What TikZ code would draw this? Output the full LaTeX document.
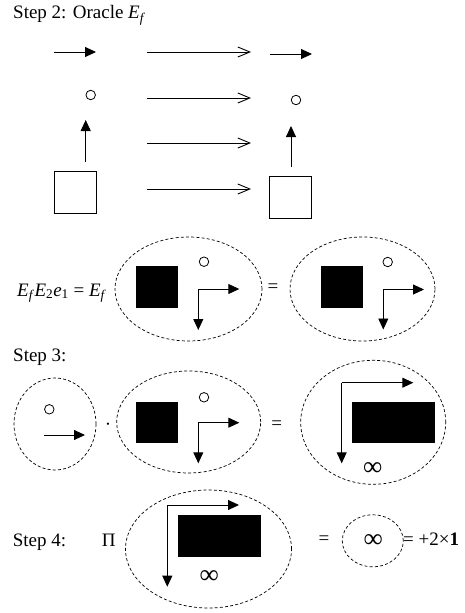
\documentclass[tikz,border=0pt]{standalone}
\usepackage{fontspec}
\setmainfont{Liberation Serif}
\usetikzlibrary{arrows.meta,shapes.geometric}
\tikzset{
  box/.style={draw, line width=0.9, minimum size=42, inner sep=0},
  blk/.style={fill=black, inner sep=0},
  dotc/.style={circle, draw, line width=0.8, minimum size=9.5, inner sep=0},
  sarr/.style={line width=0.9, -{Triangle[length=11,width=10]}},
  larr/.style={line width=0.9, -{Straight Barb[length=12,width=10]}},
  oval/.style={ellipse, draw, dash pattern=on 3 off 2.2, line width=0.7, inner sep=0},
  lbl/.style={anchor=base west, inner sep=0, font=\fontsize{19}{22}\selectfont},
  eq/.style={inner sep=0, font=\fontsize{19}{22}\selectfont},
  infs/.style={inner sep=0, font=\fontsize{27}{30}\selectfont},
}
\newcommand{\sbf}{\textsubscript{\textit{f}}}
\begin{document}
\begin{tikzpicture}[x=1pt,y=-1pt]
\useasboundingbox (0,0) rectangle (464,613);

% ---------- Step 2 ----------
\node[lbl] (t2) at (13,19) {Step 2: Oracle \textit{E}\sbf};

% left column
\coordinate (la0) at (54,52);  \coordinate (la1) at (96,52);
\draw[sarr] (la0) -- (la1);
\node[dotc] (lc) at (90.7,95) {};
\node[box] (lsq) at (75.2,192.2) {};
\coordinate (lu0) at (85.7,161.7); \coordinate (lu1) at (85.7,120);
\draw[sarr] (lu0) -- (lu1);

% long arrows
\foreach \y/\n in {52/a,98/b,143/c,189/d}{
  \coordinate (m\n0) at (147,\y); \coordinate (m\n1) at (251,\y);
  \draw[larr] (m\n0) -- (m\n1);
}

% right column
\coordinate (ra0) at (270,54);  \coordinate (ra1) at (312,54);
\draw[sarr] (ra0) -- (ra1);
\node[dotc] (rc) at (296,100) {};
\node[box] (rsq) at (290.9,197.4) {};
\coordinate (ru0) at (291,166.7); \coordinate (ru1) at (291,126);
\draw[sarr] (ru0) -- (ru1);

% equation row
\node[lbl] (eqn) at (17,296) {\textit{E}\sbf\textit{E}\textsubscript{2}\textit{e}\textsubscript{1} = \textit{E}\sbf};
\node[oval, minimum width=147, minimum height=104] (e1) at (188.5,289) {};
\node[blk, minimum width=42, minimum height=42] (b1) at (157,287) {};
\node[dotc] (c1) at (204,261.7) {};
\coordinate (k1) at (198.3,289); \coordinate (k1h) at (239.3,289); \coordinate (k1v) at (198.3,330);
\draw[sarr] (k1) -- (k1h); \draw[sarr] (k1) -- (k1v);
\node[eq] (q1) at (273,288) {=};
\node[oval, minimum width=145, minimum height=104] (e2) at (362.5,289) {};
\node[blk, minimum width=42, minimum height=42] (b2) at (342,287) {};
\node[dotc] (c2) at (387.7,262) {};
\coordinate (k2) at (383.3,289.5); \coordinate (k2h) at (424,289.5); \coordinate (k2v) at (383.3,329.5);
\draw[sarr] (k2) -- (k2h); \draw[sarr] (k2) -- (k2v);

% ---------- Step 3 ----------
\node[lbl] (t3) at (13,361.7) {Step 3:};
\node[oval, minimum width=82, minimum height=92] (e3) at (55,424) {};
\node[dotc] (c3) at (49.3,409.3) {};
\coordinate (a3a) at (44.3,435); \coordinate (a3b) at (85,435);
\draw[sarr] (a3a) -- (a3b);
\node[eq] (dt) at (108,427) {·};
\node[oval, minimum width=144, minimum height=102] (e4) at (188.7,422) {};
\node[blk, minimum width=42, minimum height=41] (b4) at (157,422.8) {};
\node[dotc] (c4) at (204,397.3) {};
\coordinate (k4) at (198.3,422.7); \coordinate (k4h) at (239.3,422.7); \coordinate (k4v) at (198.3,463.3);
\draw[sarr] (k4) -- (k4h); \draw[sarr] (k4) -- (k4v);
\node[eq] (q3) at (276.7,425) {=};
\node[oval, minimum width=145, minimum height=124] (e5) at (373.2,422.3) {};
\node[blk, minimum width=82.7, minimum height=41] (b5) at (393.7,422.8) {};
\coordinate (k5) at (341.7,382.7); \coordinate (k5h) at (413.3,382.7); \coordinate (k5v) at (341.7,463.3);
\draw[sarr] (k5) -- (k5h); \draw[sarr] (k5) -- (k5v);
\node[infs] (inf5) at (372.7,469) {∞};

% ---------- Step 4 ----------
\node[lbl] (t4) at (12.7,546) {Step 4:};
\node[lbl] (pi) at (101.7,546) {Π};
\node[oval, minimum width=166, minimum height=118] (e6) at (208.5,549) {};
\node[blk, minimum width=83, minimum height=42] (b6) at (219,535.5) {};
\coordinate (k6) at (167.3,505); \coordinate (k6h) at (239,505); \coordinate (k6v) at (167.3,586.7);
\draw[sarr] (k6) -- (k6h); \draw[sarr] (k6) -- (k6v);
\node[infs] (inf6) at (209.2,577.3) {∞};
\node[eq] (q4) at (324,540) {=};
\node[oval, minimum width=61, minimum height=52] (e7) at (372.8,540.8) {};
\node[infs] (inf7) at (373.3,540.7) {∞};
\node[lbl] (res) at (403,545) {= +2×\textbf{1}};
\end{tikzpicture}
\end{document}
